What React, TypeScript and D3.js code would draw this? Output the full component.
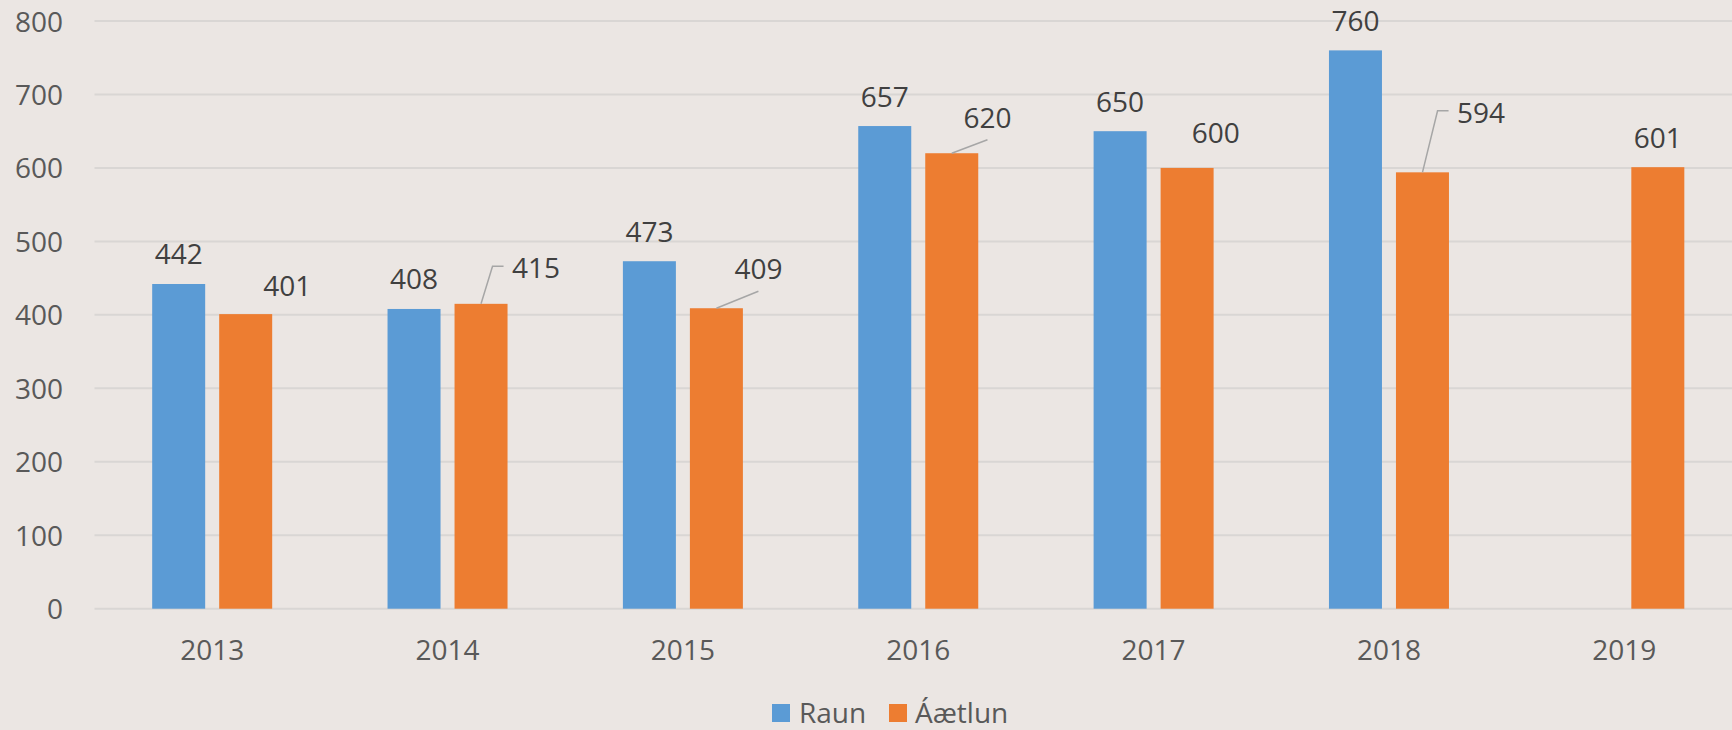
import React from "react";
import * as d3 from "d3";

const categories = ["2013", "2014", "2015", "2016", "2017", "2018", "2019"];
const seriesNames = ["Raun", "Áætlun"];
const raun: (number | null)[] = [442, 408, 473, 657, 650, 760, null];
const aaetlun: (number | null)[] = [401, 415, 409, 620, 600, 594, 601];
const yTicks = [0, 100, 200, 300, 400, 500, 600, 700, 800];

const colors = ["#5B9BD5", "#ED7D31"];

// label placement tweaks (dx, dy from default centered position above bar) and leader style
type Adj = { dx: number; dy: number; leader?: "elbow" | "below" };
const labelAdj: Record<string, Adj> = {
  "1-0": { dx: 41.5, dy: 1 },
  "1-1": { dx: 55, dy: -6, leader: "elbow" },
  "1-2": { dx: 42, dy: -9.5, leader: "below" },
  "1-3": { dx: 35.7, dy: -6, leader: "below" },
  "1-4": { dx: 28.6, dy: -5 },
  "1-5": { dx: 58.6, dy: -30, leader: "elbow" },
};

const W = 1732;
const H = 730;
const FONT = "'Open Sans', 'Noto Sans', sans-serif";

export default function App() {
  const x0 = d3.scaleBand().domain(categories).range([94.5, 1742]).paddingInner(0).paddingOuter(0);
  const bw = x0.bandwidth();
  const x1 = d3
    .scaleBand()
    .domain(seriesNames)
    .range([bw / 2 - 60, bw / 2 + 60])
    .paddingInner(0.209)
    .paddingOuter(0);
  const y = d3.scaleLinear().domain([0, 800]).range([608.7, 21]);
  const series = [raun, aaetlun];

  const bars: React.ReactNode[] = [];
  const labels: React.ReactNode[] = [];
  series.forEach((vals, si) => {
    vals.forEach((v, ci) => {
      if (v == null) return;
      const bx = (x0(categories[ci]) as number) + (x1(seriesNames[si]) as number);
      const top = y(v);
      bars.push(
        <rect
          key={`b-${si}-${ci}`}
          x={bx}
          y={top}
          width={x1.bandwidth()}
          height={y(0) - top}
          fill={colors[si]}
        />
      );
      const cx = bx + x1.bandwidth() / 2;
      const adj = labelAdj[`${si}-${ci}`] || { dx: 0, dy: 0 };
      const lx = cx + adj.dx;
      const ly = top - 19.5 + adj.dy;
      labels.push(
        <text
          key={`l-${si}-${ci}`}
          x={lx}
          y={ly}
          textAnchor="middle"
          fontSize={28}
          fill="#404040"
          fontFamily={FONT}
        >
          {v}
        </text>
      );
      if (adj.leader === "elbow") {
        const left = lx - 23.5;
        const midY = ly - 12;
        labels.push(
          <polyline
            key={`ld-${si}-${ci}`}
            points={`${cx},${top} ${left - 20},${midY} ${left - 9},${midY}`}
            fill="none"
            stroke="#A6A6A6"
            strokeWidth={1.5}
          />
        );
      } else if (adj.leader === "below") {
        labels.push(
          <line
            key={`ld-${si}-${ci}`}
            x1={cx}
            y1={top}
            x2={lx}
            y2={ly + 12}
            stroke="#A6A6A6"
            strokeWidth={1.5}
          />
        );
      }
    });
  });

  return (
    <svg
      width={W}
      height={H}
      style={{ position: "absolute", left: 0, top: 0, display: "block" }}
    >
      <rect x={0} y={0} width={W} height={H} fill="#EBE6E3" />
      {yTicks.map((t) => (
        <g key={t}>
          <line x1={94.5} x2={W} y1={y(t)} y2={y(t)} stroke="#D9D6D4" strokeWidth={2} />
          <text
            x={63}
            y={y(t) + 10.5}
            textAnchor="end"
            fontSize={28}
            fill="#595959"
            fontFamily={FONT}
          >
            {t}
          </text>
        </g>
      ))}
      {bars}
      {labels}
      {categories.map((c) => (
        <text
          key={c}
          x={(x0(c) as number) + bw / 2}
          y={660}
          textAnchor="middle"
          fontSize={28}
          fill="#595959"
          fontFamily={FONT}
        >
          {c}
        </text>
      ))}
      <g>
        <rect x={772} y={704} width={18} height={18} fill={colors[0]} />
        <text x={799} y={722.5} fontSize={28} fill="#595959" fontFamily={FONT}>
          {seriesNames[0]}
        </text>
        <rect x={889} y={704} width={18} height={18} fill={colors[1]} />
        <text x={915} y={722.5} fontSize={28} fill="#595959" fontFamily={FONT}>
          {seriesNames[1]}
        </text>
      </g>
    </svg>
  );
}
